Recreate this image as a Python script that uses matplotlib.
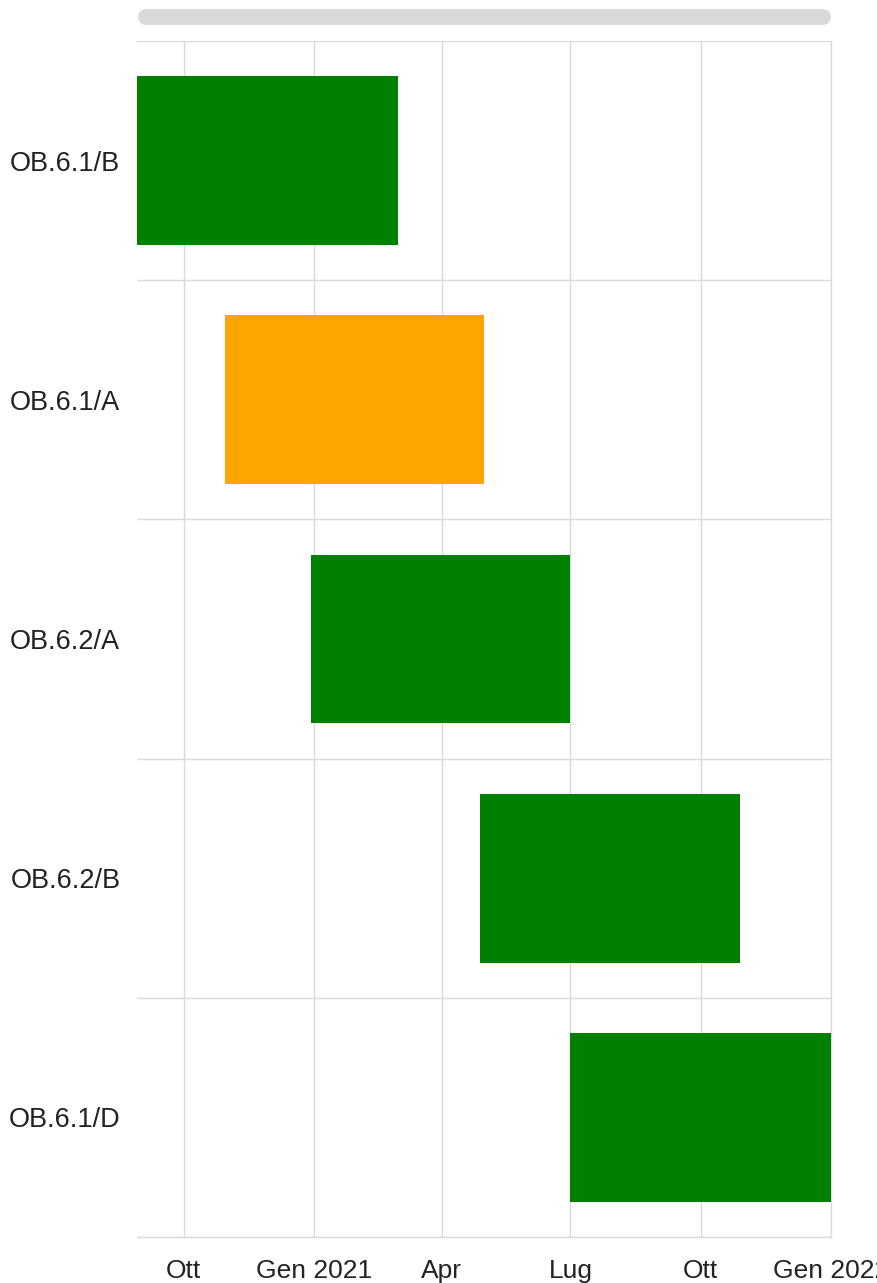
import datetime as dt
import matplotlib
matplotlib.use("Agg")
import matplotlib.pyplot as plt
import matplotlib.dates as mdates
from matplotlib.lines import Line2D

# Timeline data
tasks = ["OB.6.1/B", "OB.6.1/A", "OB.6.2/A", "OB.6.2/B", "OB.6.1/D"]
starts = ["2020-08-29", "2020-10-30", "2020-12-30", "2021-04-28", "2021-07-01"]
ends = ["2021-03-01", "2021-05-01", "2021-07-01", "2021-10-29", "2022-01-01"]
bar_colors = ["#008000", "#ffa500", "#008000", "#008000", "#008000"]

tick_dates = ["2020-10-01", "2021-01-01", "2021-04-01", "2021-07-01",
              "2021-10-01", "2022-01-01"]
tick_labels = ["Ott", "Gen 2021", "Apr", "Lug", "Ott", "Gen 2022"]

plt.rcParams["font.family"] = ["Liberation Sans", "DejaVu Sans"]

W, H = 877, 1283
fig = plt.figure(figsize=(W / 100, H / 100), dpi=100)
ax = fig.add_axes([137 / W, 46 / H, (831 - 137) / W, (1237 - 41) / H])

to_num = lambda s: mdates.date2num(dt.datetime.strptime(s, "%Y-%m-%d"))
x0 = [to_num(s) for s in starts]
x1 = [to_num(e) for e in ends]
rows = list(range(len(tasks)))

ax.barh(rows, [b - a for a, b in zip(x0, x1)], left=x0, height=0.706,
        color=bar_colors, zorder=3)

ax.set_xlim(min(x0), max(x1))
ax.set_ylim(len(tasks) - 0.5, -0.5)

grid_c = "#d9d9d9"
ticks = [to_num(t) for t in tick_dates]
ax.set_xticks(ticks)
ax.set_xticklabels(tick_labels)
for t in ticks:
    ax.axvline(t, color=grid_c, lw=1, zorder=1)
for k in range(len(tasks) + 1):
    ax.axhline(k - 0.5, color=grid_c, lw=1, zorder=1)

ax.set_yticks(rows)
ax.set_yticklabels(tasks)
ax.tick_params(axis="both", length=0, colors="#222222")
ax.tick_params(axis="x", pad=15.5, labelsize=19)
ax.tick_params(axis="y", pad=12, labelsize=19.5)

for side in ["left", "top"]:
    ax.spines[side].set_visible(False)
for side in ["right", "bottom"]:
    ax.spines[side].set_color(grid_c)
    ax.spines[side].set_linewidth(1)

# scrollbar on top
fig.add_artist(Line2D([(138 + 8) / W, (831 - 8) / W], [1 - 17 / H, 1 - 17 / H],
                      transform=fig.transFigure, color="#d9d9d9",
                      lw=11.5, solid_capstyle="round"))

fig.savefig("out.png", dpi=100)
